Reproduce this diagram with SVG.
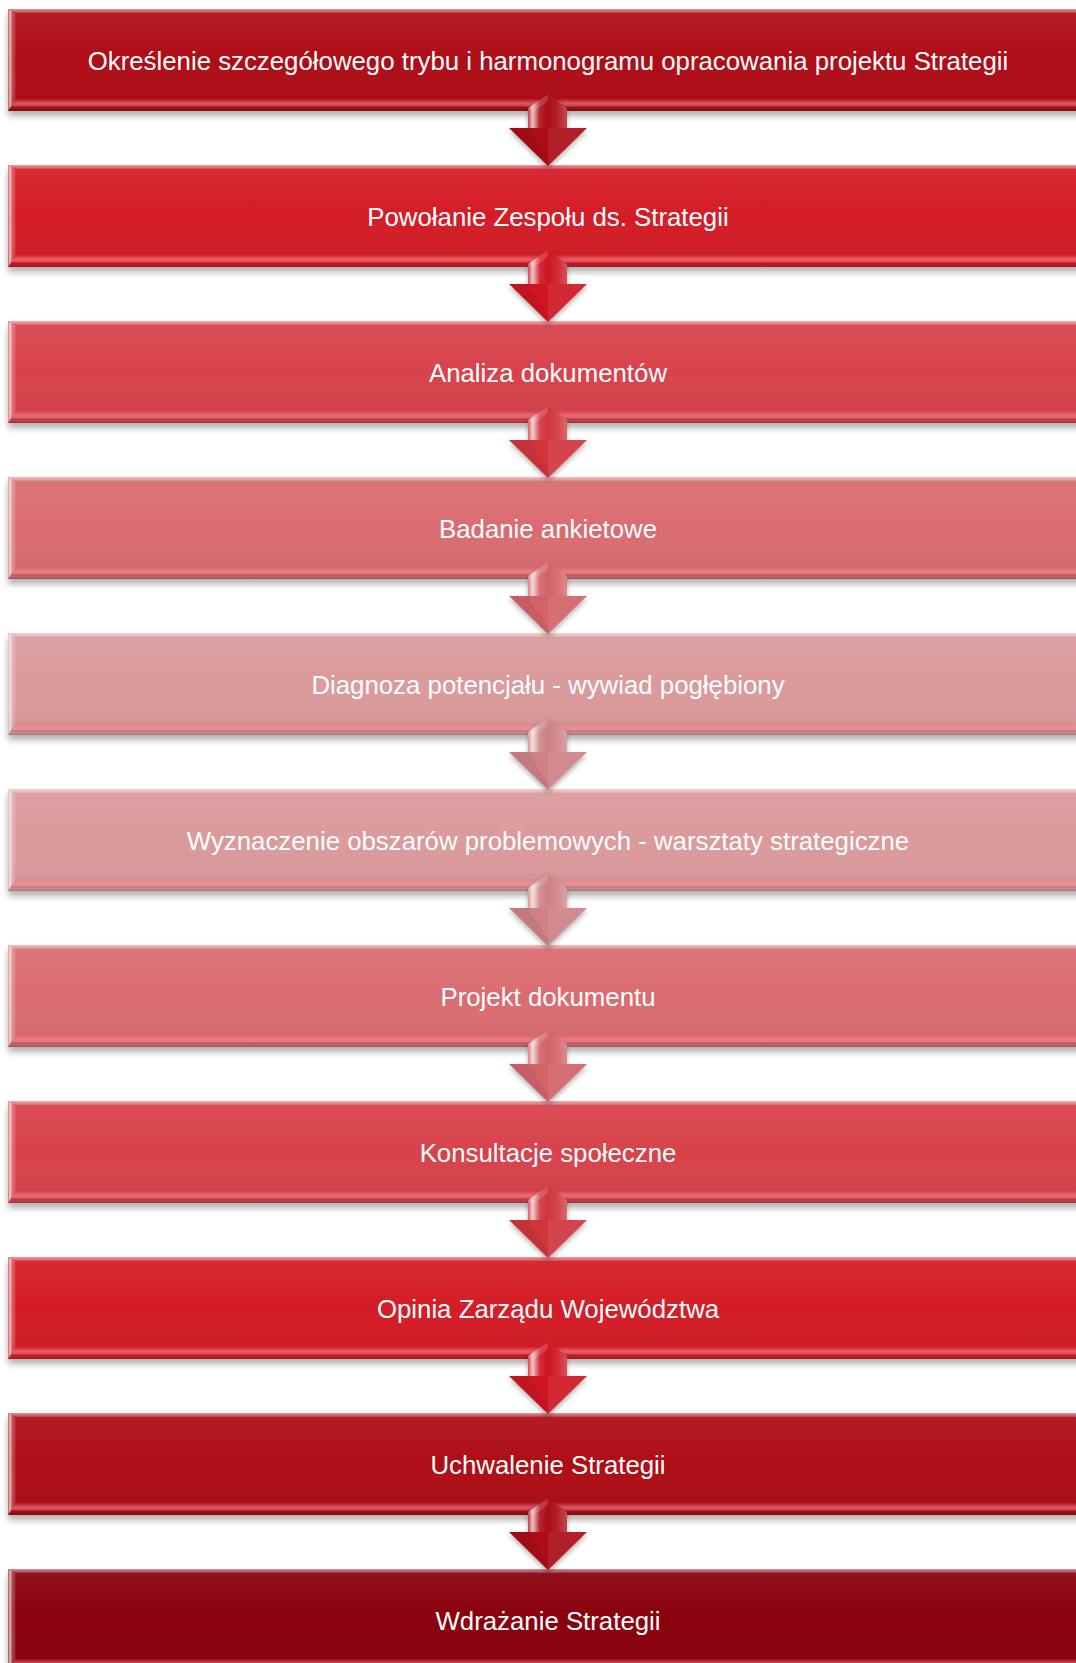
<svg xmlns="http://www.w3.org/2000/svg" xmlns:xlink="http://www.w3.org/1999/xlink" width="1076" height="1663" viewBox="0 0 1076 1663">
<style>
.lbl{font-family:"Liberation Sans",Arial,Helvetica,sans-serif;font-size:25.8px;fill:#ffffff;text-anchor:middle}
.box{filter:url(#shadow)}
.arr{filter:url(#ashadow)}
</style>
<defs>
<filter id="shadow" x="-5%" y="-20%" width="110%" height="150%">
<feDropShadow dx="0" dy="5" stdDeviation="3" flood-color="#000" flood-opacity="0.3"/>
</filter>
<filter id="ashadow" x="-30%" y="-20%" width="160%" height="150%">
<feDropShadow dx="0" dy="3" stdDeviation="2.5" flood-color="#000" flood-opacity="0.3"/>
</filter>
<linearGradient id="face" x1="0" y1="0" x2="0" y2="1">
<stop offset="0" stop-color="#fff" stop-opacity="0.07"/>
<stop offset="0.5" stop-color="#fff" stop-opacity="0"/>
<stop offset="1" stop-color="#000" stop-opacity="0.07"/>
</linearGradient>
<linearGradient id="topB" x1="0" y1="0" x2="0" y2="1">
<stop offset="0" stop-color="#fff" stop-opacity="0.55"/>
<stop offset="1" stop-color="#fff" stop-opacity="0.15"/>
</linearGradient>
<linearGradient id="leftB" x1="0" y1="0" x2="1" y2="0">
<stop offset="0" stop-color="#fff" stop-opacity="0.25"/>
<stop offset="0.25" stop-color="#fff" stop-opacity="0.75"/>
<stop offset="0.5" stop-color="#fff" stop-opacity="0.3"/>
<stop offset="1" stop-color="#fff" stop-opacity="0.05"/>
</linearGradient>
<linearGradient id="botB" x1="0" y1="0" x2="0" y2="1">
<stop offset="0" stop-color="#ff6070" stop-opacity="0.15"/>
<stop offset="0.35" stop-color="#ff8a95" stop-opacity="0.6"/>
<stop offset="0.55" stop-color="#ff8a95" stop-opacity="0.45"/>
<stop offset="0.8" stop-color="#000" stop-opacity="0.02"/>
<stop offset="1" stop-color="#000" stop-opacity="0.2"/>
</linearGradient>
<linearGradient id="shaftHi" x1="0" y1="0" x2="1" y2="0">
<stop offset="0" stop-color="#fff" stop-opacity="0.2"/>
<stop offset="0.12" stop-color="#fff" stop-opacity="0.75"/>
<stop offset="0.3" stop-color="#fff" stop-opacity="0.1"/>
<stop offset="0.5" stop-color="#fff" stop-opacity="0"/>
<stop offset="0.75" stop-color="#fff" stop-opacity="0.08"/>
<stop offset="1" stop-color="#fff" stop-opacity="0.25"/>
</linearGradient>
<g id="bevel">
<rect x="8" y="0" width="1080" height="102" fill="url(#face)"/>
<polygon points="8,0 1088,0 1080,4 16,4" fill="url(#topB)"/>
<polygon points="8,0 16,4 16,90 8,102" fill="url(#leftB)"/>
<polygon points="8,102 16,90 1080,90 1088,102" fill="url(#botB)"/>
</g>
<g id="arrowHi">
<polygon points="528,99 548,85 567,99 567,119 528,119" fill="url(#shaftHi)"/>
<polygon points="528,99 548,85 548,92 533,103" fill="#fff" fill-opacity="0.15"/>
<polygon points="548,119 587,119 548,157" fill="#fff" fill-opacity="0.08"/>
<polygon points="509,119 528,119 548,150 548,157" fill="#000" fill-opacity="0.06"/>
</g>
</defs>

<rect width="1076" height="1663" fill="#ffffff"/>

<g id="nodes">
<g id="node1" transform="translate(0,9)"><rect class="box" x="8" y="0" width="1080" height="102" fill="#AF0F19"/><use xlink:href="#bevel"/><text class="lbl" x="548" y="61">Określenie szczegółowego trybu i harmonogramu opracowania projektu Strategii</text></g>
<g id="node2" transform="translate(0,165)"><rect class="box" x="8" y="0" width="1080" height="102" fill="#D41B25"/><use xlink:href="#bevel"/><text class="lbl" x="548" y="61">Powołanie Zespołu ds. Strategii</text></g>
<g id="node3" transform="translate(0,321)"><rect class="box" x="8" y="0" width="1080" height="102" fill="#D8434C"/><use xlink:href="#bevel"/><text class="lbl" x="548" y="61">Analiza dokumentów</text></g>
<g id="node4" transform="translate(0,477)"><rect class="box" x="8" y="0" width="1080" height="102" fill="#DA6C71"/><use xlink:href="#bevel"/><text class="lbl" x="548" y="61">Badanie ankietowe</text></g>
<g id="node5" transform="translate(0,633)"><rect class="box" x="8" y="0" width="1080" height="102" fill="#DB9A9C"/><use xlink:href="#bevel"/><text class="lbl" x="548" y="61">Diagnoza potencjału - wywiad pogłębiony</text></g>
<g id="node6" transform="translate(0,789)"><rect class="box" x="8" y="0" width="1080" height="102" fill="#DB9A9C"/><use xlink:href="#bevel"/><text class="lbl" x="548" y="61">Wyznaczenie obszarów problemowych - warsztaty strategiczne</text></g>
<g id="node7" transform="translate(0,945)"><rect class="box" x="8" y="0" width="1080" height="102" fill="#DA6C71"/><use xlink:href="#bevel"/><text class="lbl" x="548" y="61">Projekt dokumentu</text></g>
<g id="node8" transform="translate(0,1101)"><rect class="box" x="8" y="0" width="1080" height="102" fill="#D8434C"/><use xlink:href="#bevel"/><text class="lbl" x="548" y="61">Konsultacje społeczne</text></g>
<g id="node9" transform="translate(0,1257)"><rect class="box" x="8" y="0" width="1080" height="102" fill="#D41B25"/><use xlink:href="#bevel"/><text class="lbl" x="548" y="61">Opinia Zarządu Województwa</text></g>
<g id="node10" transform="translate(0,1413)"><rect class="box" x="8" y="0" width="1080" height="102" fill="#AF0F19"/><use xlink:href="#bevel"/><text class="lbl" x="548" y="61">Uchwalenie Strategii</text></g>
<g id="node11" transform="translate(0,1569)"><rect class="box" x="8" y="0" width="1080" height="102" fill="#8A000C"/><use xlink:href="#bevel"/><text class="lbl" x="548" y="61">Wdrażanie Strategii</text></g>
</g>

<g id="connectors">
<g transform="translate(0,9)"><polygon class="arr" points="548,85 567,99 567,119 587,119 548,157 509,119 528,119 528,99" fill="#AC0B16"/><use xlink:href="#arrowHi"/></g>
<g transform="translate(0,165)"><polygon class="arr" points="548,85 567,99 567,119 587,119 548,157 509,119 528,119 528,99" fill="#CF1821"/><use xlink:href="#arrowHi"/></g>
<g transform="translate(0,321)"><polygon class="arr" points="548,85 567,99 567,119 587,119 548,157 509,119 528,119 528,99" fill="#D0353E"/><use xlink:href="#arrowHi"/></g>
<g transform="translate(0,477)"><polygon class="arr" points="548,85 567,99 567,119 587,119 548,157 509,119 528,119 528,99" fill="#D26468"/><use xlink:href="#arrowHi"/></g>
<g transform="translate(0,633)"><polygon class="arr" points="548,85 567,99 567,119 587,119 548,157 509,119 528,119 528,99" fill="#CE8286"/><use xlink:href="#arrowHi"/></g>
<g transform="translate(0,789)"><polygon class="arr" points="548,85 567,99 567,119 587,119 548,157 509,119 528,119 528,99" fill="#CE8286"/><use xlink:href="#arrowHi"/></g>
<g transform="translate(0,945)"><polygon class="arr" points="548,85 567,99 567,119 587,119 548,157 509,119 528,119 528,99" fill="#D26468"/><use xlink:href="#arrowHi"/></g>
<g transform="translate(0,1101)"><polygon class="arr" points="548,85 567,99 567,119 587,119 548,157 509,119 528,119 528,99" fill="#D0353E"/><use xlink:href="#arrowHi"/></g>
<g transform="translate(0,1257)"><polygon class="arr" points="548,85 567,99 567,119 587,119 548,157 509,119 528,119 528,99" fill="#CF1821"/><use xlink:href="#arrowHi"/></g>
<g transform="translate(0,1413)"><polygon class="arr" points="548,85 567,99 567,119 587,119 548,157 509,119 528,119 528,99" fill="#AC0B16"/><use xlink:href="#arrowHi"/></g>
</g>
</svg>
